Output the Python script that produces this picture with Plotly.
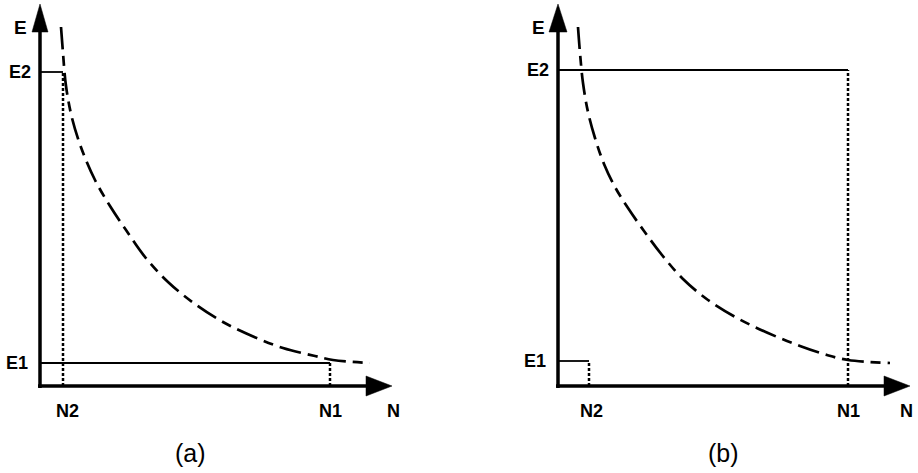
import plotly.graph_objects as go

# Canvas and a pixel-per-unit coordinate system for both panels
W, H = 918, 473
ORIGIN_Y_PX = 386           # x axis height (from top)
PANEL_A_ORIGIN_X = 40       # y axis position of panel (a)
PANEL_B_ORIGIN_X = 558      # y axis position of panel (b)
AXIS_LEN_X = 352
AXIS_LEN_Y = 382

# ---- data -------------------------------------------------------------
# Panel (a): curve E(N) and the two operating points
curve_a_n = [21, 23, 26, 32, 42, 55, 70, 86, 105, 128, 155, 183, 212, 243, 275, 293, 330]
curve_a_e = [359, 333, 300, 268, 236, 206, 180, 156, 129, 104, 82, 64, 50, 38, 30, 26, 23]
a_N1, a_N2 = 290, 23
a_E1, a_E2 = 23, 314

# Panel (b)
curve_b_n = [20, 22, 25, 30, 37, 46, 57, 70, 86, 104, 125, 150, 179, 210, 242, 269, 290, 332]
curve_b_e = [359, 333, 303, 274, 248, 222, 199, 178, 155, 131, 107, 86, 68, 53, 40, 31, 26, 23]
b_N1, b_N2 = 290, 31
b_E1, b_E2 = 25, 316

tick_labels_e = ["E1", "E2"]
tick_labels_n = ["N1", "N2"]

FONT = "Liberation Sans, Arial, sans-serif"
BLACK = "#000000"

fig = go.Figure()


def line(xs, ys, xref, yref, width, dash="solid", shape="linear"):
    fig.add_trace(go.Scatter(
        x=xs, y=ys, mode="lines", xaxis=xref, yaxis=yref,
        line=dict(color=BLACK, width=width, dash=dash, shape=shape, smoothing=1.0),
        hoverinfo="skip", showlegend=False, cliponaxis=False,
    ))


def triangle(xs, ys, xref, yref):
    fig.add_trace(go.Scatter(
        x=xs + [xs[0]], y=ys + [ys[0]], mode="lines", fill="toself",
        fillcolor=BLACK, line=dict(color=BLACK, width=0.5),
        xaxis=xref, yaxis=yref, hoverinfo="skip", showlegend=False,
    ))


def label(text, x, y, xref, yref, size=18, bold=True):
    fig.add_annotation(
        x=x, y=y, xref=xref, yref=yref, showarrow=False,
        text=f"<b>{text}</b>" if bold else text,
        font=dict(family=FONT, size=size, color=BLACK),
        xanchor="center", yanchor="middle",
    )


def panel(xref, yref, cn, ce, N1, N2, E1, E2, wide_rect, head_w,
          e_lab_x, n2_lab_x, n_lab_x, cap_x, caption):
    # axes with arrowheads
    line([-2, AXIS_LEN_X - 20], [0, 0], xref, yref, 3.5)
    line([0, 0], [-2, AXIS_LEN_Y - 20], xref, yref, 3.5)
    triangle([AXIS_LEN_X, AXIS_LEN_X - 26, AXIS_LEN_X - 26], [0, 10, -10], xref, yref)
    triangle([0, -head_w, head_w], [AXIS_LEN_Y, AXIS_LEN_Y - 28, AXIS_LEN_Y - 28], xref, yref)

    # rectangles of the two operating points
    dotted = "3px,2px"
    if wide_rect:   # panel (a): E2 with N2, E1 with N1
        line([0, N2], [E2, E2], xref, yref, 1.8)
        line([N2, N2], [0, E2], xref, yref, 2.5, dash=dotted)
        line([0, N1], [E1, E1], xref, yref, 1.8)
        line([N1, N1], [0, E1], xref, yref, 2.5, dash=dotted)
    else:           # panel (b): E2 with N1, E1 with N2
        line([0, N1], [E2, E2], xref, yref, 1.8)
        line([N1, N1], [0, E2], xref, yref, 2.5, dash=dotted)
        line([0, N2], [E1, E1], xref, yref, 1.8)
        line([N2, N2], [0, E1], xref, yref, 2.5, dash=dotted)

    # E(N) curve
    line(cn, ce, xref, yref, 2.7, dash="22px,7px,10px,7px", shape="spline")

    # labels
    label("E", e_lab_x, 359, xref, yref, size=19)
    label(tick_labels_e[1], e_lab_x, E2, xref, yref)
    label(tick_labels_e[0], e_lab_x - 3, E1, xref, yref)
    label(tick_labels_n[1], n2_lab_x, -25, xref, yref)
    label(tick_labels_n[0], N1, -25, xref, yref)
    label("N", n_lab_x, -25, xref, yref)
    label(caption, cap_x, -67, xref, yref, size=25, bold=False)


panel("x", "y", curve_a_n, curve_a_e, a_N1, a_N2, a_E1, a_E2, True, 8,
      -20, a_N2 + 4, 353, 150, "(a)")
panel("x2", "y2", curve_b_n, curve_b_e, b_N1, b_N2, b_E1, b_E2, False, 9,
      -20, b_N2 + 2, 348, 165, "(b)")

half = 459
hidden = dict(visible=False, showgrid=False, zeroline=False, fixedrange=True)
fig.update_layout(
    width=W, height=H, autosize=False,
    margin=dict(l=0, r=0, t=0, b=0, pad=0),
    paper_bgcolor="white", plot_bgcolor="white",
    showlegend=False,
    xaxis=dict(domain=[0, half / W], range=[-PANEL_A_ORIGIN_X, half - PANEL_A_ORIGIN_X], **hidden),
    yaxis=dict(domain=[0, 1], range=[-(H - ORIGIN_Y_PX), ORIGIN_Y_PX], anchor="x", **hidden),
    xaxis2=dict(domain=[half / W, 1], range=[-(PANEL_B_ORIGIN_X - half), W - PANEL_B_ORIGIN_X], **hidden),
    yaxis2=dict(domain=[0, 1], range=[-(H - ORIGIN_Y_PX), ORIGIN_Y_PX], anchor="x2", **hidden),
)

fig.write_html("out.html")
